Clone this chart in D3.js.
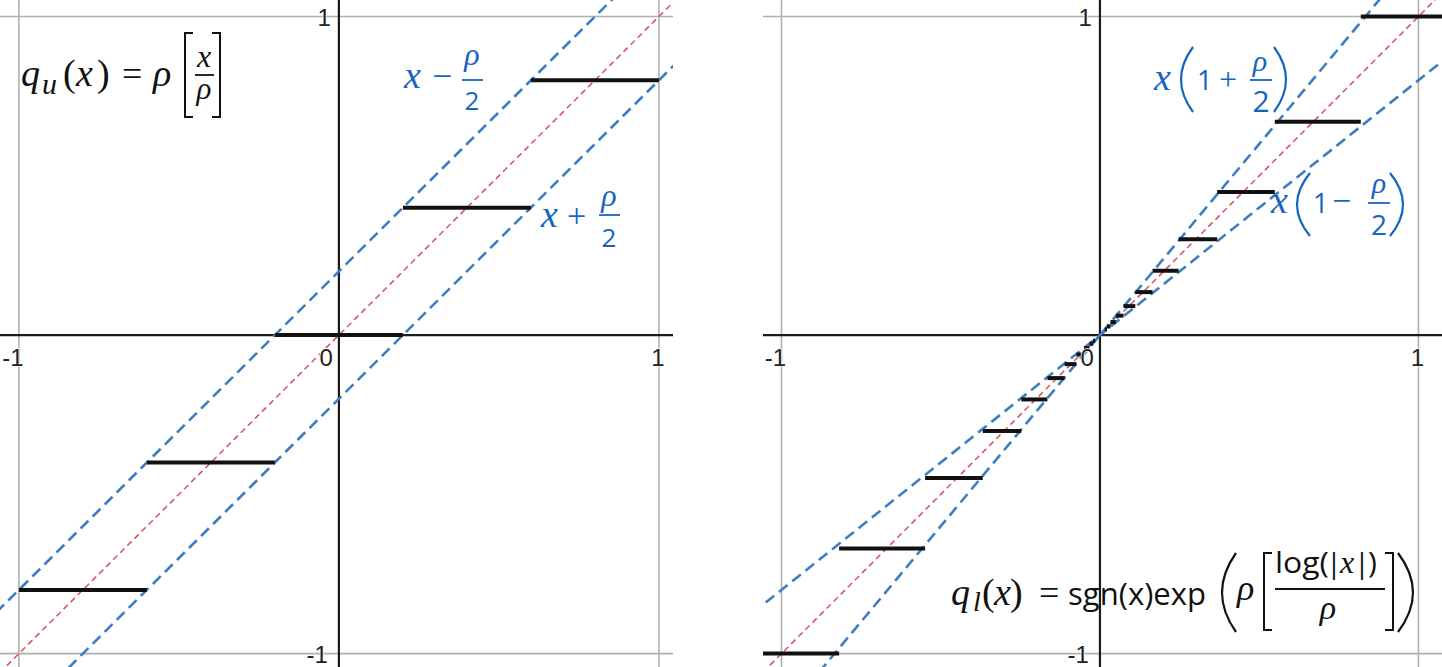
<!DOCTYPE html>
<html>
<head>
<meta charset="utf-8">
<script src="https://cdn.jsdelivr.net/npm/d3@7"></script>
<style>
  html, body { margin: 0; padding: 0; background: #fff; }
  svg { display: block; }
</style>
</head>
<body>
<svg id="chart" width="1442" height="667"></svg>
<script>
// uniform quantizer, rho = 0.4
const uniLevels = [-0.8, -0.4, 0, 0.4, 0.8];
const uniFrom   = [-1.0, -0.6, -0.2, 0.2, 0.6];
const uniTo     = [-0.6, -0.2, 0.2, 0.6, 1.0];
const uniGuideSlope  = [1, 1];
const uniGuideOffset = [-0.2, 0.2];

// log quantizer, positive half (mirrored for x < 0)
const logLevels = [1, 0.670, 0.449, 0.301, 0.202, 0.135, 0.091, 0.061, 0.041, 0.027, 0.018];
const logFrom   = [0.819, 0.549, 0.368, 0.247, 0.165, 0.111, 0.074, 0.050, 0.033, 0.022, 0.015];
const logTo     = [1.221, 0.819, 0.549, 0.368, 0.247, 0.165, 0.111, 0.074, 0.050, 0.033, 0.022];
const logGuideSlope  = [1.2, 0.8];
const logGuideOffset = [0, 0];

const gridTicks = [-1, 1];
const tickLabels = ['-1', '0', '1'];

const BLUE = '#3d7ec2', RED = '#d65a64', TXT = '#1565c0', INK = '#111';
const SERIF = '"Liberation Serif", serif', SANS = '"Open Sans", sans-serif';

const svg = d3.select('#chart');
const y = d3.scaleLinear().domain([1.052, -1.042]).range([0, 667]);

function panel(id, x0, x1, dom, levels, from, to, slopes, offsets, mirror) {
    let x = d3.scaleLinear().domain(dom).range([x0, x1]);
    svg.append('clipPath').attr('id', id).append('rect')
        .attr('x', x0).attr('y', 0).attr('width', x1 - x0).attr('height', 667);
    let g = svg.append('g').attr('clip-path', 'url(#' + id + ')');

    // grid at +-1
    g.selectAll('.gx').data(gridTicks).enter().append('line')
        .attr('x1', d => x(d)).attr('x2', d => x(d)).attr('y1', 0).attr('y2', 667)
        .attr('stroke', '#b0b0b0').attr('stroke-width', 1.6);
    g.selectAll('.gy').data(gridTicks).enter().append('line')
        .attr('x1', x0).attr('x2', x1).attr('y1', d => y(d)).attr('y2', d => y(d))
        .attr('stroke', '#b0b0b0').attr('stroke-width', 1.6);

    // axes
    g.append('line').attr('x1', x0).attr('x2', x1).attr('y1', y(0)).attr('y2', y(0))
        .attr('stroke', '#1a1a1a').attr('stroke-width', 2.2);
    g.append('line').attr('x1', x(0)).attr('x2', x(0)).attr('y1', 0).attr('y2', 667)
        .attr('stroke', '#1a1a1a').attr('stroke-width', 2.2);

    // y = x reference
    let ends = [dom[0] - 0.2, dom[1] + 0.2];
    g.append('line')
        .attr('x1', x(ends[0])).attr('y1', y(ends[0]))
        .attr('x2', x(ends[1])).attr('y2', y(ends[1]))
        .attr('stroke', RED).attr('stroke-width', 1.6).attr('stroke-dasharray', '6,4');

    // bound lines
    slopes.forEach(function (m, i) {
        g.append('line')
            .attr('x1', x(ends[0])).attr('y1', y(m * ends[0] + offsets[i]))
            .attr('x2', x(ends[1])).attr('y2', y(m * ends[1] + offsets[i]))
            .attr('stroke', BLUE).attr('stroke-width', 2.6).attr('stroke-dasharray', '11,6');
    });

    // quantizer steps
    let steps = levels.map((d, i) => ({ v: d, a: from[i], b: to[i] }));
    if (mirror) steps = steps.concat(steps.map(s => ({ v: -s.v, a: -s.b, b: -s.a })));
    g.selectAll('.step').data(steps).enter().append('line')
        .attr('x1', d => x(d.a)).attr('x2', d => x(d.b))
        .attr('y1', d => y(d.v)).attr('y2', d => y(d.v))
        .attr('stroke', INK).attr('stroke-width', 4);

    // tick labels
    let lab = g.append('g').attr('font-family', '"Liberation Sans", Arial, sans-serif')
        .attr('font-size', 24).attr('fill', '#222')
        .attr('stroke', '#fff').attr('stroke-width', 1.5).attr('paint-order', 'stroke');
    lab.append('text').attr('x', x(-1) - 6).attr('y', y(0) + 31).attr('text-anchor', 'middle').text(tickLabels[0]);
    lab.append('text').attr('x', x(0) - 6).attr('y', y(0) + 31).attr('text-anchor', 'end').text(tickLabels[1]);
    lab.append('text').attr('x', x(1) - 1).attr('y', y(0) + 31).attr('text-anchor', 'middle').text(tickLabels[2]);
    lab.append('text').attr('x', x(0) - 8).attr('y', y(1) + 9).attr('text-anchor', 'end').text(tickLabels[2]);
    lab.append('text').attr('x', x(0) - 11).attr('y', y(-1) + 9).attr('text-anchor', 'end').text(tickLabels[0]);
}

panel('cl', 0, 673, [-1.059, 1.044], uniLevels, uniFrom, uniTo, uniGuideSlope, uniGuideOffset, false);
panel('cr', 763, 1442, [-1.058, 1.074], logLevels, logFrom, logTo, logGuideSlope, logGuideOffset, true);

// ---- math labels ----
function t(s, px, py, size, o) {
    o = o || {};
    return svg.append('text').attr('x', px).attr('y', py).text(s)
        .attr('font-family', o.f || SERIF).attr('font-size', size)
        .attr('font-style', o.i ? 'italic' : 'normal')
        .attr('text-anchor', o.a || 'start')
        .attr('fill', o.c || INK);
}
function bar(xa, xb, py, c) {
    svg.append('line').attr('x1', xa).attr('x2', xb).attr('y1', py).attr('y2', py)
        .attr('stroke', c || INK).attr('stroke-width', 1.8);
}
function sq(px, top, bot, w, c) {   // w > 0 : '[' , w < 0 : ']'
    svg.append('path').attr('d', `M${px + w},${top}H${px}V${bot}H${px + w}`)
        .attr('fill', 'none').attr('stroke', c || INK).attr('stroke-width', 2);
}
function paren(xOut, xIn, top, bot, c) {
    let cx = 2 * xOut - xIn;
    svg.append('path').attr('d', `M${xIn},${top}Q${cx},${(top + bot) / 2} ${xIn},${bot}`)
        .attr('fill', 'none').attr('stroke', c || INK).attr('stroke-width', 2.2);
}

// q_u(x) = rho [x / rho]
t('q', 21, 86, 38, { i: 1 });
t('u', 42, 94, 30, { i: 1 });
t('(', 63, 86, 38);
t('x', 76, 86, 38, { i: 1 });
t(')', 97, 86, 38);
t('=', 122, 86, 36);
t('ρ', 153, 86, 38, { i: 1 });
sq(185, 33, 117, 8);
t('x', 204, 67, 32, { i: 1, a: 'middle' });
bar(195, 214, 75);
t('ρ', 204, 99, 31, { i: 1, a: 'middle' });
sq(220, 33, 117, -8);

// x - rho/2
t('x', 404, 88, 38, { i: 1, c: TXT });
t('−', 432, 88, 36, { c: TXT });
t('ρ', 472, 65, 32, { i: 1, a: 'middle', c: TXT });
bar(462, 483, 80, TXT);
t('2', 472, 110, 26, { f: SANS, a: 'middle', c: TXT });

// x + rho/2
t('x', 541, 227, 38, { i: 1, c: TXT });
t('+', 567, 227, 34, { c: TXT });
t('ρ', 609, 206, 32, { i: 1, a: 'middle', c: TXT });
bar(599, 620, 215, TXT);
t('2', 609, 247, 26, { f: SANS, a: 'middle', c: TXT });

// x(1 + rho/2)
t('x', 1154, 90, 38, { i: 1, c: TXT });
paren(1181, 1193, 47, 112, TXT);
t('1', 1197, 90, 27, { f: SANS, c: TXT });
t('+', 1219, 90, 32, { c: TXT });
t('ρ', 1260, 71, 30, { i: 1, a: 'middle', c: TXT });
bar(1250, 1272, 80, TXT);
t('2', 1261, 112, 30, { f: SANS, a: 'middle', c: TXT });
paren(1286, 1274, 47, 112, TXT);

// x(1 - rho/2)
t('x', 1271, 213, 38, { i: 1, c: TXT });
paren(1297, 1310, 173, 236, TXT);
t('1', 1313, 213, 27, { f: SANS, c: TXT });
t('−', 1332, 212, 34, { c: TXT });
t('ρ', 1379, 193, 30, { i: 1, a: 'middle', c: TXT });
bar(1368, 1390, 203, TXT);
t('2', 1379, 235, 28, { f: SANS, a: 'middle', c: TXT });
paren(1403, 1390, 173, 236, TXT);

// q_l(x) = sgn(x)exp(rho [log(|x|) / rho])
t('q', 951, 605, 38, { i: 1 });
t('l', 973, 611, 28, { i: 1 });
t('(', 982, 605, 38);
t('x', 994, 605, 38, { i: 1 });
t(')', 1010, 605, 38);
t('=', 1039, 605, 36);
t('sgn(x)exp', 1068, 605, 31, { f: SANS }).attr('textLength', 138).attr('lengthAdjust', 'spacingAndGlyphs');
paren(1222, 1236, 553, 632);
t('ρ', 1237, 600, 36, { i: 1 });
sq(1264, 553, 630, 8);
t('log(', 1275, 573, 30, { f: SANS }).attr('textLength', 54).attr('lengthAdjust', 'spacingAndGlyphs');
t('|', 1334, 573, 28, { f: SANS, a: 'middle' });
t('x', 1340, 573, 32, { i: 1 });
t('|', 1362, 573, 28, { f: SANS, a: 'middle' });
t(')', 1368, 573, 30, { f: SANS });
bar(1275, 1385, 589);
t('ρ', 1328, 619, 34, { i: 1, a: 'middle' });
sq(1393, 553, 630, -8);
paren(1413, 1398, 553, 632);
</script>
</body>
</html>
